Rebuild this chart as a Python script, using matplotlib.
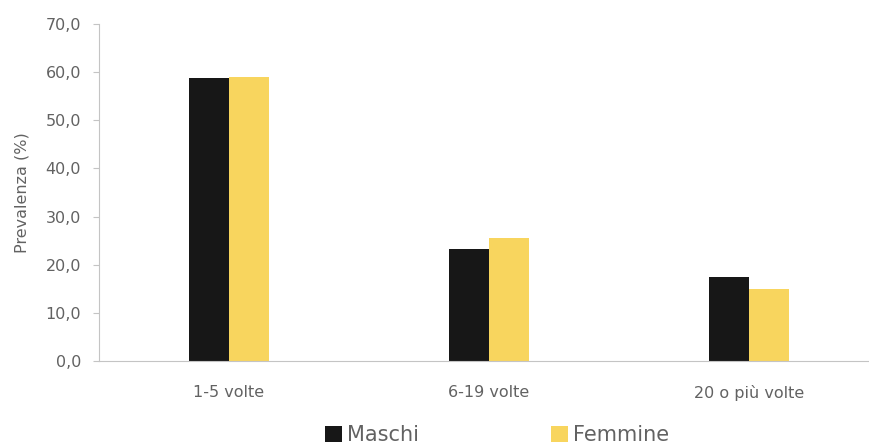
import matplotlib
matplotlib.use("Agg")
import matplotlib.pyplot as plt
import numpy as np

categories = ["1-5 volte", "6-19 volte", "20 o più volte"]
maschi = [58.8, 23.3, 17.5]
femmine = [59.0, 25.5, 14.9]
series_names = ["Maschi", "Femmine"]
yticks = [0, 10, 20, 30, 40, 50, 60, 70]
ytick_labels = ["0,0", "10,0", "20,0", "30,0", "40,0", "50,0", "60,0", "70,0"]

plt.rcParams['font.family'] = ['DejaVu Sans']
txt = "#626262"
spine_c = "#c4c4c4"
c_m = "#171717"
c_f = "#f8d55e"

fig = plt.figure(figsize=(8.69, 4.46), dpi=100)
ax = fig.add_axes([99/869, 1-361/446, (879-99)/869, (361-24)/446])
x = np.arange(len(categories))
w = 0.153
ax.bar(x - w/2, maschi, width=w, color=c_m, label=series_names[0])
ax.bar(x + w/2, femmine, width=w, color=c_f, label=series_names[1])
ax.set_xlim(-0.5, 2.5)
ax.set_ylim(0, 70)
ax.set_yticks(yticks)
ax.set_yticklabels(ytick_labels)
ax.set_xticks(x)
ax.set_xticklabels(categories)
for s in ["top", "right"]:
    ax.spines[s].set_visible(False)
for s in ["left", "bottom"]:
    ax.spines[s].set_color(spine_c)
    ax.spines[s].set_linewidth(0.8)
ax.tick_params(axis='y', colors=spine_c, labelcolor=txt, labelsize=11.5, length=4, width=0.8, pad=9)
ax.tick_params(axis='x', length=0, labelcolor=txt, labelsize=11.5, pad=17)
ax.set_ylabel("Prevalenza (%)", color=txt, fontsize=11.5)
ax.yaxis.set_label_coords((30-99)/780, 0.5)

handles, labels = ax.get_legend_handles_labels()
fig.legend(handles, labels, loc='center', bbox_to_anchor=(497/869, 1-435/446), ncol=2,
           frameon=False, fontsize=15, labelcolor=txt, handlelength=0.8, handleheight=0.8,
           handletextpad=0.25, columnspacing=6.35, borderpad=0)

fig.savefig("out.png", dpi=100)
